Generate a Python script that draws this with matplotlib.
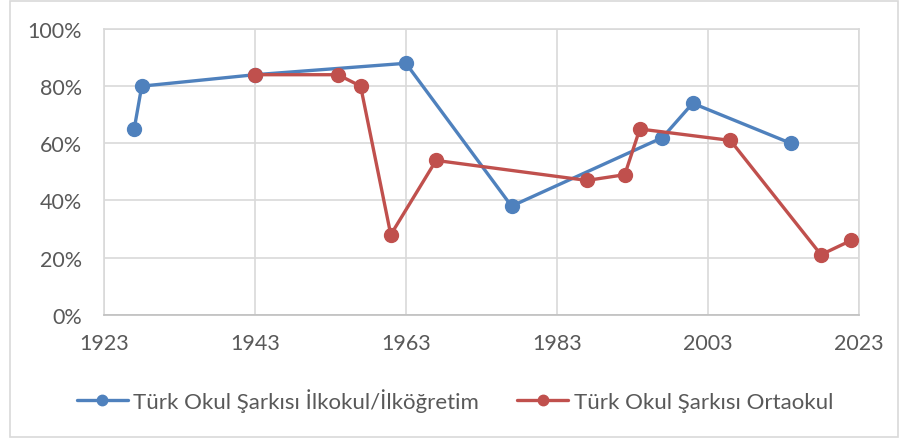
import matplotlib
matplotlib.use("Agg")
import matplotlib.pyplot as plt
from matplotlib.ticker import FuncFormatter, MultipleLocator
from matplotlib.patches import Rectangle

plt.rcParams['font.family'] = ['Lato', 'DejaVu Sans']

series1_name = "Türk Okul Şarkısı İlkokul/İlköğretim"
series1_years = [1927, 1928, 1943, 1963, 1977, 1997, 2001, 2014]
series1_values = [65, 80, 84, 88, 38, 62, 74, 60]

series2_name = "Türk Okul Şarkısı Ortaokul"
series2_years = [1943, 1954, 1957, 1961, 1967, 1987, 1992, 1994, 2006, 2018, 2022]
series2_values = [84, 84, 80, 28, 54, 47, 49, 65, 61, 21, 26]

x_ticks = [1923, 1943, 1963, 1983, 2003, 2023]

fig = plt.figure(figsize=(9.01, 4.39), dpi=100)
ax = fig.add_axes([104/901, 1-315.7/439, (858.7-104)/901, (315.7-30)/439])

blue = '#4f81bd'
red = '#c0504d'
grid = '#d9d9d9'
txt = '#595959'

ax.plot(series1_years, series1_values, color=blue, lw=2.4, marker='o', ms=10,
        label=series1_name, zorder=3, solid_capstyle='round')
ax.plot(series2_years, series2_values, color=red, lw=2.4, marker='o', ms=10,
        label=series2_name, zorder=3, solid_capstyle='round')

ax.set_xlim(1923, 2023)
ax.set_ylim(0, 100)
ax.set_xticks(x_ticks)
ax.yaxis.set_major_locator(MultipleLocator(20))
ax.yaxis.set_major_formatter(FuncFormatter(lambda v, p: f"{int(v)}%"))
ax.grid(True, color=grid, lw=1.2)
ax.set_axisbelow(True)
for s in ax.spines.values():
    s.set_color(grid)
    s.set_linewidth(1.2)
ax.spines['bottom'].set_color('#bfbfbf')
ax.tick_params(axis='both', length=0, colors=txt, labelsize=15.5)
ax.tick_params(axis='x', pad=13)
ax.tick_params(axis='y', pad=16)

leg = fig.legend(loc='center', bbox_to_anchor=(0.505, 1-401/439), ncol=2, frameon=False,
                 fontsize=16, labelcolor=txt, handlelength=2.3, columnspacing=1.7,
                 handletextpad=0.25, markerscale=0.75)

fig.patches.append(Rectangle((10/901, 1/439), 888/901, 436/439, transform=fig.transFigure,
                             fill=False, edgecolor='#d9d9d9', lw=1.2))

fig.savefig('out.png', dpi=100)
